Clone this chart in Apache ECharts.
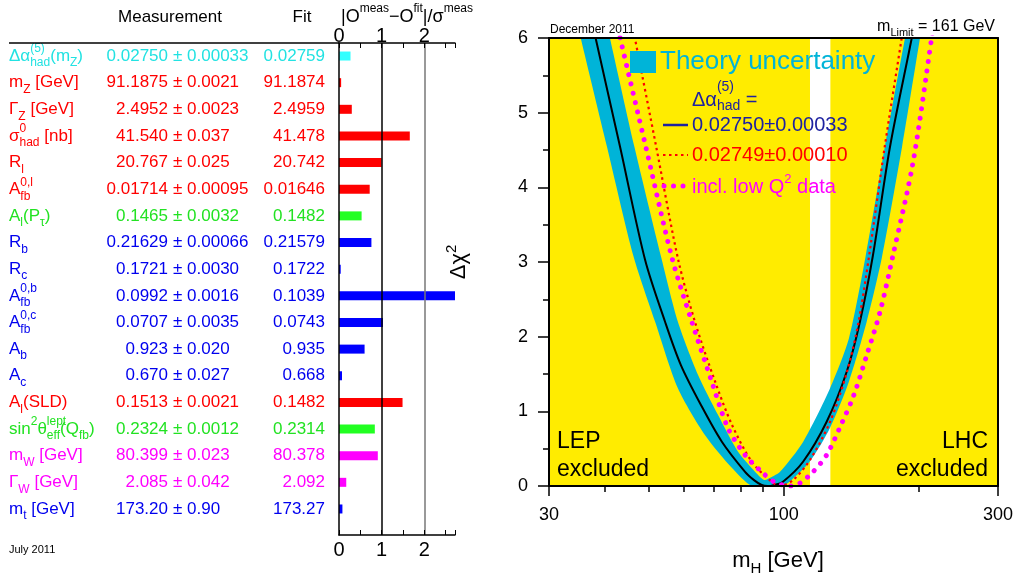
<!DOCTYPE html>
<html><head><meta charset="utf-8">
<script src="https://cdn.jsdelivr.net/npm/echarts@6/dist/echarts.min.js"></script>
<style>html,body{margin:0;padding:0;background:#fff;}#c{width:1016px;height:576px;}</style>
</head><body><div id="c"></div>
<script>
// ---------------- DATA ----------------
const rowNames = [
 '{b|Δα}{p|(5)}{s|had}{b|(m}{s|Z}{b|)}',
 '{b|m}{s|Z}{b| [GeV]}',
 '{b|Γ}{s|Z}{b| [GeV]}',
 '{b|σ}{p|0}{s|had}{b| [nb]}',
 '{b|R}{s|l}',
 '{b|A}{p|0,l}{s|fb}',
 '{b|A}{s|l}{b|(P}{s|τ}{b|)}',
 '{b|R}{s|b}',
 '{b|R}{s|c}',
 '{b|A}{p|0,b}{s|fb}',
 '{b|A}{p|0,c}{s|fb}',
 '{b|A}{s|b}',
 '{b|A}{s|c}',
 '{b|A}{s|l}{b|(SLD)}',
 '{b|sin}{u|2}{b|θ}{p|lept}{s|eff}{b|(Q}{s|fb}{b|)}',
 '{b|m}{s|W}{b| [GeV]}',
 '{b|Γ}{s|W}{b| [GeV]}',
 '{b|m}{s|t}{b| [GeV]}'
];
const rowGroup = ['cyan','red','red','red','red','red','green','blue','blue','blue','blue','blue','blue','red','green','magenta','magenta','blue'];
const measValues = ['0.02750','91.1875','2.4952','41.540','20.767','0.01714','0.1465','0.21629','0.1721','0.0992','0.0707','0.923','0.670','0.1513','0.2324','80.399','2.085','173.20'];
const measErrors = ['0.00033','0.0021','0.0023','0.037','0.025','0.00095','0.0032','0.00066','0.0030','0.0016','0.0035','0.020','0.027','0.0021','0.0012','0.023','0.042','0.90'];
const fitValues = ['0.02759','91.1874','2.4959','41.478','20.742','0.01646','0.1482','0.21579','0.1722','0.1039','0.0743','0.935','0.668','0.1482','0.2314','80.378','2.092','173.27'];
const pulls = [0.27,0.05,0.30,1.66,1.00,0.72,0.53,0.76,0.04,2.94,1.03,0.60,0.07,1.49,0.84,0.91,0.17,0.08];
const pullTicks = [0,1,2];

const xLabelsH = [30,100,300];
const xMinorH = [40,50,60,70,80,90,200];
const blackCurve = [[36.6,6.5],[38.1,6.0],[43.2,4.54],[49.1,3.03],[54.4,2.20],[59.0,1.62],[65.4,1.085],[72.8,0.593],[82.0,0.19],[86,0.075],[89.3,0.013],[92,0],[95,0.012],[99.6,0.058],[110.4,0.325],[124.6,0.861],[138.1,1.53],[147.8,2.20],[158.0,3.09],[172.4,4.54],[192.8,6.0],[200,6.5]];
const redCurve = [[44.9,6.5],[46.6,6.0],[52.0,4.54],[58.1,3.05],[63.4,2.20],[70.3,1.40],[76.7,0.817],[85.0,0.32],[94.1,0.054],[98.1,0],[104.9,0.08],[114.4,0.35],[126.8,0.86],[138.3,1.53],[146.8,2.20],[154.8,3.07],[167.8,4.54],[183.1,6.0],[188.6,6.5]];
const magentaCurve = [[41.3,6.5],[43.2,6.0],[49.3,4.54],[56.4,3.05],[62.4,2.20],[69.1,1.40],[75.1,0.777],[82.0,0.415],[89.3,0.19],[95.6,0.05],[103.2,0],[108.7,0.04],[116.2,0.19],[124.6,0.415],[134.1,0.817],[143.3,1.22],[153.0,1.75],[163.8,2.33],[175.1,3.09],[194.0,4.33],[213.5,6.0],[219.7,6.5]];
const bandOuter = [[33.8,6.5],[35.3,6.0],[40.4,4.54],[46.3,3.07],[51.7,2.20],[58.1,1.31],[66.8,0.68],[76.7,0.24],[85,0],[99,0],[103.2,0.06],[114.4,0.33],[126.8,0.78],[139.7,1.40],[153.0,2.20],[165.4,3.06],[183.4,4.54],[201.1,6.0],[207.4,6.5]];
const bandInner = [[39.3,6.5],[41.0,6.0],[46.5,4.54],[53.3,3.07],[58.1,2.20],[64.4,1.49],[71.4,0.95],[79.1,0.46],[87.6,0.15],[90.5,0.08],[94,0.12],[98.1,0.19],[110.4,0.59],[126.8,1.31],[139.7,1.98],[152.1,3.07],[167.9,4.54],[186.2,6.0],[192.9,6.5]];
const lepLimit = 114.4, lhcLimit = 127;

// ---------------- STYLE ----------------
const F = "'Liberation Sans', Arial, Helvetica, sans-serif";
const textColors = {cyan:'#22e2e2', red:'#ff0000', green:'#22e222', blue:'#0000ee', magenta:'#ff00ff'};
const barColors = {cyan:'#33ffff', red:'#ff0000', green:'#22ff22', blue:'#0000ff', magenta:'#ff00ff'};
const bandColor = '#00b4d8';
const yellow = '#ffec00';
const dkBlue = '#1e22a0';

const rich = {};
Object.keys(textColors).forEach(g => {
  const c = textColors[g];
  rich['b'+g] = {fontSize:17, lineHeight:26, color:c, fontFamily:F};
  rich['p'+g] = {fontSize:12, lineHeight:12, verticalAlign:'top', width:0.01, color:c, fontFamily:F};
  rich['u'+g] = {fontSize:12, lineHeight:12, verticalAlign:'top', color:c, fontFamily:F};
  rich['s'+g] = {fontSize:12, lineHeight:16, verticalAlign:'bottom', color:c, fontFamily:F};
  rich['c'+g] = {fontSize:17, color:c, fontFamily:F};
});
const rowIds = rowNames.map((_, i) => String(i));

function catAxis(margin, align, fmt) {
  return {type:'category', gridIndex:0, data:rowIds, inverse:true, position:'left', offset:0,
    axisLine:{show:false, onZero:false}, axisTick:{show:false}, splitLine:{show:false},
    axisLabel:{interval:0, margin:margin, align:align, formatter:fmt, rich:rich}};
}

const chart = echarts.init(document.getElementById('c'));
const option = {
  animation:false,
  textStyle:{fontFamily:F},
  grid:[
    {left:339, right:561, top:42.7, bottom:53.7},
    {left:339, right:561, top:43, bottom:41},
    {left:549, right:18, top:38, bottom:90, show:true, backgroundColor:yellow, borderWidth:0}
  ],
  xAxis:[
    {type:'value', gridIndex:0, min:0, max:2.72, show:false},
    {type:'value', gridIndex:1, min:0, max:2.72, interval:0.5, position:'top', z:10,
      axisLine:{onZero:false, lineStyle:{color:'#000', width:1.5}},
      axisTick:{inside:true, length:5, lineStyle:{color:'#000'}},
      splitLine:{show:false},
      axisLabel:{margin:-3, fontSize:20, color:'#000', fontFamily:F, formatter:v => pullTicks.indexOf(v) >= 0 ? String(v) : ''}},
    {type:'value', gridIndex:1, min:0, max:2.72, interval:0.5, position:'bottom', z:10,
      axisLine:{onZero:false, lineStyle:{color:'#000', width:1.5}},
      axisTick:{inside:true, length:5, lineStyle:{color:'#000'}},
      splitLine:{show:false},
      axisLabel:{margin:5, fontSize:20, color:'#000', fontFamily:F, formatter:v => pullTicks.indexOf(v) >= 0 ? String(v) : ''}},
    {type:'log', logBase:10, gridIndex:2, min:30, max:300, position:'bottom', z:10,
      axisLine:{onZero:false, lineStyle:{color:'#000', width:2}},
      axisTick:{customValues:xLabelsH, length:10, lineStyle:{color:'#000', width:1.5}},
      splitLine:{show:false}, minorTick:{show:false},
      axisLabel:{customValues:xLabelsH, margin:20, fontSize:18, color:'#000', fontFamily:F, formatter:v => String(Math.round(v))}},
    {type:'log', logBase:10, gridIndex:2, min:30, max:300, position:'bottom', z:10,
      axisLine:{show:false, onZero:false},
      axisTick:{customValues:xMinorH, length:6, lineStyle:{color:'#000', width:1.5}},
      splitLine:{show:false}, axisLabel:{show:false}},
    {type:'log', logBase:10, gridIndex:2, min:30, max:300, position:'top', z:10,
      axisLine:{onZero:false, lineStyle:{color:'#000', width:2}},
      axisTick:{show:false}, splitLine:{show:false}, axisLabel:{show:false}}
  ],
  yAxis:[
    catAxis(330, 'left', (v, i) => rowNames[i].replace(/\{([bpus])\|/g, (m, k) => '{' + k + rowGroup[i] + '|')),
    catAxis(171, 'right', (v, i) => '{c' + rowGroup[i] + '|' + measValues[i] + '}'),
    catAxis(166, 'left', (v, i) => '{c' + rowGroup[i] + '|± ' + measErrors[i] + '}'),
    catAxis(14, 'right', (v, i) => '{c' + rowGroup[i] + '|' + fitValues[i] + '}'),
    {type:'value', gridIndex:1, min:0, max:1, position:'left', z:10,
      axisLine:{show:true, onZero:false, lineStyle:{color:'#000', width:1.5}},
      axisTick:{show:false}, axisLabel:{show:false}, splitLine:{show:false}},
    {type:'value', gridIndex:2, min:0, max:6, interval:1, position:'left', z:10,
      axisLine:{show:true, onZero:false, lineStyle:{color:'#000', width:2}},
      axisTick:{length:11, lineStyle:{color:'#000', width:1.5}},
      minorTick:{show:true, splitNumber:2, length:6, lineStyle:{color:'#000', width:1.5}},
      splitLine:{show:false}, minorSplitLine:{show:false},
      axisLabel:{margin:21, fontSize:18, color:'#000', fontFamily:F}},
    {type:'value', gridIndex:2, min:0, max:6, position:'right', z:10,
      axisLine:{show:true, onZero:false, lineStyle:{color:'#000', width:2}},
      axisTick:{show:false}, axisLabel:{show:false}, splitLine:{show:false}}
  ],
  series:[
    {type:'bar', xAxisIndex:0, yAxisIndex:0, barWidth:9, silent:true, clip:true,
      data:pulls.map((v, i) => ({value:v, itemStyle:{color:barColors[rowGroup[i]]}}))},
    {type:'line', xAxisIndex:1, yAxisIndex:4, data:[[0,0]], symbol:'none', lineStyle:{opacity:0}, silent:true,
      markLine:{silent:true, symbol:['none','none'], label:{show:false},
        data:[{xAxis:pullTicks[1], lineStyle:{color:'#000', width:1.5, type:'solid'}},
              {xAxis:pullTicks[2], lineStyle:{color:'#777', width:1.5, type:'solid'}}]}},
    {type:'line', xAxisIndex:3, yAxisIndex:5, data:[[100,-1]], symbol:'none', lineStyle:{opacity:0}, silent:true, z:1,
      markArea:{silent:true, itemStyle:{color:'#ffffff', opacity:1}, data:[[{xAxis:lepLimit},{xAxis:lhcLimit}]]}},
    {type:'custom', xAxisIndex:3, yAxisIndex:5, z:2, silent:true, clip:true,
      data:[[100,3]],
      renderItem:(params, api) => {
        const poly = bandOuter.concat(bandInner.slice().reverse());
        return {type:'polygon', shape:{points:poly.map(p => api.coord(p)), smooth:0.25}, style:{fill:bandColor}};
      }},
    {type:'line', xAxisIndex:3, yAxisIndex:5, z:3, data:blackCurve, symbol:'none', smooth:0.3, silent:true, clip:true,
      lineStyle:{color:'#000', width:2}},
    {type:'line', xAxisIndex:3, yAxisIndex:5, z:4, data:redCurve, symbol:'none', smooth:0.3, silent:true, clip:true,
      lineStyle:{color:'#ff0000', width:2.2, type:[2.5,3.5]}},
    {type:'line', xAxisIndex:3, yAxisIndex:5, z:5, data:magentaCurve, symbol:'none', smooth:0.3, silent:true, clip:true,
      lineStyle:{color:'#ff00ff', width:5, type:[0.01,9.5], cap:'round'}}
  ],
  graphic:[]
};

function T(x, y, text, size, color, align, extra) {
  const st = Object.assign({text:text, x:0, y:0, fill:color, fontSize:size, fontFamily:F,
    align:align || 'left', textAlign:align || 'left', verticalAlign:'middle', textVerticalAlign:'middle'}, extra || {});
  return {type:'text', x:x, y:y, z:100, silent:true, style:st};
}
const G = option.graphic;
// left panel
G.push(T(170, 17, 'Measurement', 17, '#000', 'center'));
G.push(T(302, 17, 'Fit', 17, '#000', 'center'));
G.push({type:'line', z:100, silent:true, shape:{x1:9, y1:43, x2:339, y2:43}, style:{stroke:'#000', lineWidth:1.5}});
G.push(T(341, 17, '{m||O}{s|meas}{m|−O}{s|fit}{m||/σ}{s|meas}', 18, '#000', 'left',
  {rich:{m:{fontSize:18, lineHeight:28, fontFamily:F, color:'#000'}, s:{fontSize:12, lineHeight:12, verticalAlign:'top', fontFamily:F, color:'#000'}}}));
G.push(T(9, 550, 'July 2011', 11, '#000', 'left'));
// right panel
G.push(T(550, 30, 'December 2011', 12, '#000', 'left'));
G.push(T(995, 27, '{m|m}{s|Limit}{m| = 161 GeV}', 16, '#000', 'right',
  {rich:{m:{fontSize:16, lineHeight:22, fontFamily:F, color:'#000'}, s:{fontSize:11, lineHeight:13, verticalAlign:'bottom', fontFamily:F, color:'#000'}}}));
G.push({type:'rect', z:100, silent:true, shape:{x:630, y:51, width:26, height:22}, style:{fill:bandColor}});
G.push(T(660, 62, 'Theory uncertainty', 26, bandColor, 'left'));
G.push(T(692, 100, '{b|Δα}{p|(5)}{s|had}{b| =}', 20, dkBlue, 'left',
  {rich:{b:{fontSize:20, lineHeight:40, fontFamily:F, color:dkBlue},
         p:{fontSize:14, lineHeight:14, verticalAlign:'top', width:0.01, fontFamily:F, color:dkBlue},
         s:{fontSize:14, lineHeight:14, verticalAlign:'bottom', padding:[0,0,7,0], fontFamily:F, color:dkBlue}}}));
G.push({type:'line', z:100, silent:true, shape:{x1:663, y1:125, x2:688, y2:125}, style:{stroke:dkBlue, lineWidth:2.5}});
G.push(T(692, 125, '0.02750±0.00033', 20, dkBlue, 'left'));
G.push({type:'line', z:100, silent:true, shape:{x1:663, y1:155, x2:688, y2:155}, style:{stroke:'#ff0000', lineWidth:2.2, lineDash:[2.5,3.5]}});
G.push(T(692, 155, '0.02749±0.00010', 20, '#ff0000', 'left'));
G.push({type:'line', z:100, silent:true, shape:{x1:664, y1:186, x2:686, y2:186}, style:{stroke:'#ff00ff', lineWidth:5, lineDash:[0.01,9.5], lineCap:'round'}});
G.push(T(692, 187, '{m|incl. low Q}{s|2}{m| data}', 20, '#ff00ff', 'left',
  {rich:{m:{fontSize:20, lineHeight:28, fontFamily:F, color:'#ff00ff'}, s:{fontSize:13, lineHeight:14, verticalAlign:'top', fontFamily:F, color:'#ff00ff'}}}));
G.push(T(557, 442, 'LEP', 23, '#000', 'left'));
G.push(T(557, 470, 'excluded', 23, '#000', 'left'));
G.push(T(988, 442, 'LHC', 23, '#000', 'right'));
G.push(T(988, 470, 'excluded', 23, '#000', 'right'));
G.push(T(778, 561, '{m|m}{s|H}{m| [GeV]}', 22, '#000', 'center',
  {rich:{m:{fontSize:22, lineHeight:30, fontFamily:F, color:'#000'}, s:{fontSize:15, lineHeight:18, verticalAlign:'bottom', fontFamily:F, color:'#000'}}}));
G.push(Object.assign(T(459, 262, '{m|Δχ}{s|2}', 22, '#000', 'center',
  {rich:{m:{fontSize:22, lineHeight:30, fontFamily:F, color:'#000'}, s:{fontSize:15, lineHeight:15, verticalAlign:'top', fontFamily:F, color:'#000'}}}), {rotation:Math.PI/2}));

chart.setOption(option);
</script></body></html>
